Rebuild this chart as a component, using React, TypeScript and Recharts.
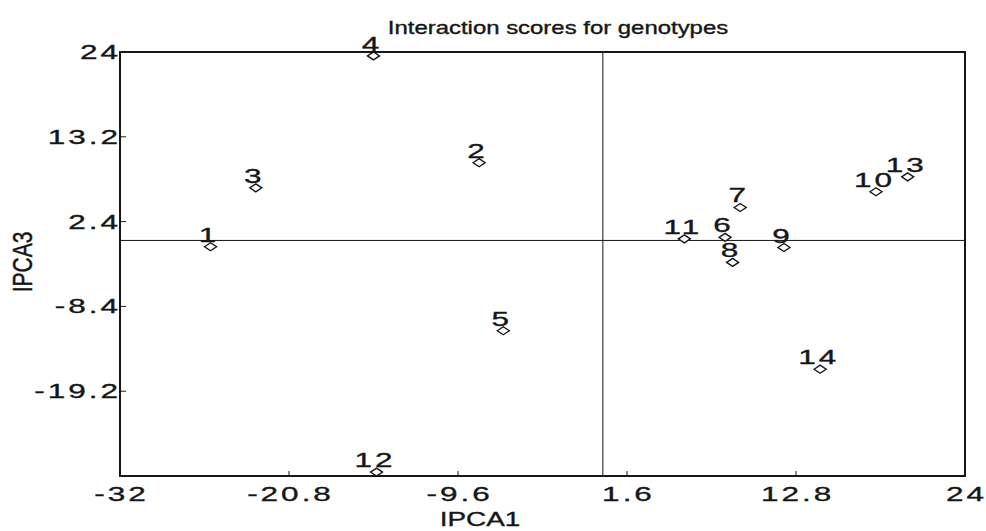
import React from "react";
import {
  ReferenceArea,
  ReferenceLine,
  Scatter,
  ScatterChart,
  XAxis,
  YAxis,
} from "recharts";

// Interaction scores (IPCA1 vs IPCA3) for 14 genotypes.
const GENOTYPES = ["1", "2", "3", "4", "5", "6", "7", "8", "9", "10", "11", "12", "13", "14"];
const IPCA1 = [-26.0, -8.2, -23.0, -15.2, -6.6, 8.1, 9.1, 8.6, 12.0, 18.1, 5.4, -15.0, 20.2, 14.4];
const IPCA3 = [-0.8, 9.9, 6.7, 23.5, -11.5, 0.4, 4.2, -2.8, -0.9, 6.2, 0.2, -29.5, 8.1, -16.4];

const X_TICKS = [-32, -20.8, -9.6, 1.6, 12.8, 24];
const Y_TICKS = [-19.2, -8.4, 2.4, 13.2, 24];
const X_DOMAIN: [number, number] = [-32, 24];
const Y_DOMAIN: [number, number] = [-30, 24];

const INK = "#161616";
const FONT = "'Liberation Sans', Arial, sans-serif";
// the source picture is stretched sideways, so texts get squashed to match
const SX = 1.33;
const NUM_SX = 1.5;
const NUM_FS = 21;
const NUM_LS = 2;

const points = GENOTYPES.map((g, i) => ({ name: g, x: IPCA1[i], y: IPCA3[i] }));

function SText({
  x,
  y,
  size,
  anchor = "middle",
  ls = 0,
  sx = SX,
  rotate = 0,
  children,
}: {
  x: number;
  y: number;
  size: number;
  anchor?: "start" | "middle" | "end";
  ls?: number;
  sx?: number;
  rotate?: number;
  children: React.ReactNode;
}) {
  // shift for the trailing letter-spacing so centred text stays centred
  const dx = anchor === "middle" ? ls / 2 : anchor === "end" ? ls : 0;
  return (
    <g transform={`translate(${x},${y}) scale(${sx},1) rotate(${rotate})`}>
      <text
        x={dx}
        y={0}
        textAnchor={anchor}
        fontSize={size}
        letterSpacing={ls}
        fontFamily={FONT}
        fill={INK}
        stroke={INK}
        strokeWidth={0.35}
      >
        {children}
      </text>
    </g>
  );
}

function Num({ x, y, anchor = "middle", children }: any) {
  return (
    <SText x={x} y={y} size={NUM_FS} ls={NUM_LS} sx={NUM_SX} anchor={anchor}>
      {children}
    </SText>
  );
}

function XTick(props: any) {
  const { x, y, payload } = props;
  return (
    <g>
      <line x1={x} x2={x} y1={y - 25} y2={y - 30} stroke={INK} strokeWidth={1} />
      <Num x={x} y={y}>
        {String(payload.value)}
      </Num>
    </g>
  );
}

function YTick(props: any) {
  const { x, y, payload } = props;
  return (
    <g>
      <line x1={x} x2={x + 6} y1={y} y2={y} stroke={INK} strokeWidth={1} />
      <Num x={x - 2} y={y + 7} anchor="end">
        {String(payload.value)}
      </Num>
    </g>
  );
}

function Genotype(props: any) {
  const { cx, cy, payload } = props;
  if (cx == null || cy == null) return null;
  return (
    <g>
      <Num x={cx - 3} y={cy - 5}>
        {payload.name}
      </Num>
      <path
        d={`M${cx - 6},${cy} L${cx},${cy - 4} L${cx + 6},${cy} L${cx},${cy + 4} Z`}
        fill="#fff"
        stroke={INK}
        strokeWidth={1.4}
      />
    </g>
  );
}

export default function App() {
  return (
    <div style={{ position: "absolute", left: 0, top: 0, background: "#fff" }}>
      <ScatterChart
        width={986}
        height={531}
        margin={{ top: 52, right: 21, bottom: 0, left: 0 }}
      >
        <XAxis
          type="number"
          dataKey="x"
          domain={X_DOMAIN}
          ticks={X_TICKS}
          interval={0}
          height={55}
          tickSize={0}
          tickMargin={25}
          tickLine={false}
          axisLine={false}
          tick={<XTick />}
        />
        <YAxis
          type="number"
          dataKey="y"
          domain={Y_DOMAIN}
          ticks={Y_TICKS}
          interval={0}
          width={120}
          tickSize={0}
          tickMargin={0}
          tickLine={false}
          axisLine={false}
          tick={<YTick />}
        />
        <ReferenceArea
          x1={-32}
          x2={24}
          y1={-30}
          y2={24}
          fill="none"
          fillOpacity={0}
          stroke={INK}
          strokeWidth={2}
        />
        <ReferenceLine x={0} stroke={INK} strokeWidth={1} />
        <ReferenceLine y={0} stroke={INK} strokeWidth={1} />
        <Scatter data={points} shape={<Genotype />} isAnimationActive={false} />
        <SText x={558} y={34} size={18}>
          Interaction scores for genotypes
        </SText>
        <SText x={480} y={526} size={21}>
          IPCA1
        </SText>
        <SText x={32} y={262} size={21} rotate={-90}>
          IPCA3
        </SText>
      </ScatterChart>
    </div>
  );
}
